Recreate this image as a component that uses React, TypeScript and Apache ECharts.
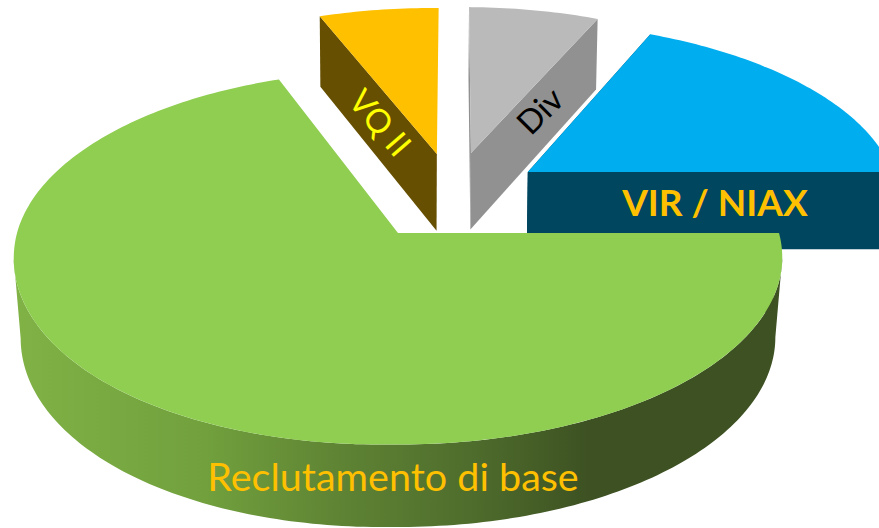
import React, { useEffect, useRef } from "react";
import * as echarts from "echarts";

const categories = ["VIR / NIAX", "Div", "VQ II", "Reclutamento di base"];
const shares = [18.2, 6.5, 6, 69.3];

// world-space explosion of each slice (radius = 1)
const explodeX = [0.356, 0.203, 0.108, 0];
const explodeY = [0.346, 0.461, 0.454, 0];

const topColors = ["#00AEEF", "#BABABA", "#FFC000", "#8FCE51"];
const sideColors = ["#00465F", "#919191", "#664F00", "#3D5122"];

const CX = 398, CY = 233, RX = 381, RY = 184, P = 0.13;
// the outer wall is only seen between the two silhouette angles
const WALL_FROM = 187.5, WALL_TO = 352.5;

const project = (X: number, Y: number, base: boolean): number[] => {
  const s = 1 / (1 + P * Y);
  let x = CX + RX * X * s;
  let y = CY - RY * Y * s;
  if (X < 0 && Y < 0) y += 8 * X * Y;
  if (base) {
    x = CX + (x - CX) * (Y > 0 ? 0.992 : 0.982);
    y += Y > 0 ? 79.5 - 6.5 * Y : 79.5 - 3 * Y;
  }
  return [x, y];
};

const greenWall = {
  type: "linear", x: 0, y: 0, x2: 1, y2: 0,
  colorStops: [
    { offset: 0, color: "#80B246" },
    { offset: 0.25, color: "#71A03D" },
    { offset: 0.42, color: "#5F8434" },
    { offset: 0.6, color: "#4E6C2C" },
    { offset: 0.75, color: "#3D5122" },
    { offset: 1, color: "#3D5122" },
  ],
};

const renderItem = (params: any, api: any) => {
  const i = params.dataIndex;
  const total = shares.reduce((a, b) => a + b, 0);
  const before = shares.slice(0, i).reduce((a, b) => a + b, 0);
  const a0 = (before / total) * 360;
  const a1 = ((before + (api.value(0) as number)) / total) * 360;
  const ex = explodeX[i], ey = explodeY[i];
  const rim = (from: number, to: number, base: boolean) => {
    const pts: number[][] = [];
    for (let a = from; a < to; a += 1) {
      const r = (a * Math.PI) / 180;
      pts.push(project(ex + Math.cos(r), ey + Math.sin(r), base));
    }
    const r = (to * Math.PI) / 180;
    pts.push(project(ex + Math.cos(r), ey + Math.sin(r), base));
    return pts;
  };
  const top = rim(a0, a1, false), bottom = rim(a0, a1, true);
  const apexTop = project(ex, ey, false), apexBase = project(ex, ey, true);
  const side = sideColors[i];
  const children: any[] = [];
  const wallA = Math.max(a0, WALL_FROM), wallB = Math.min(a1, WALL_TO);
  if (wallB > wallA) {
    children.push({
      type: "polygon",
      shape: { points: [...rim(wallA, wallB, false), ...rim(wallA, wallB, true).reverse()] },
      style: { fill: i === 3 ? greenWall : side },
    });
  }
  children.push({ type: "polygon", shape: { points: [apexTop, top[top.length - 1], bottom[bottom.length - 1], apexBase] }, style: { fill: side } });
  if (a0 < 88) {
    children.push({ type: "polygon", shape: { points: [apexTop, top[0], bottom[0], apexBase] }, style: { fill: side } });
  }
  children.push({ type: "polygon", shape: { points: [apexTop, ...top] }, style: { fill: topColors[i] } });
  return { type: "group", children };
};

const font = "Lato, Carlito, sans-serif";
const label = (text: string, x: number, y: number, size: number, color: string, rotation = 0, weight = "normal") => ({
  type: "text", x, y, rotation, z: 100, silent: true,
  style: { text, fontFamily: font, fontSize: size, fontWeight: weight, fill: color, textAlign: "center", textVerticalAlign: "middle" },
});

export default function App() {
  const ref = useRef<HTMLDivElement>(null);
  useEffect(() => {
    const chart = echarts.init(ref.current!, undefined, { renderer: "svg" });
    chart.setOption({
      animation: false,
      backgroundColor: "#FFFFFF",
      series: [{
        type: "custom",
        coordinateSystem: "none",
        silent: true,
        clip: false,
        data: shares.map((v, i) => ({ name: categories[i], value: [v] })),
        renderItem,
      }],
      graphic: [
        label(categories[0], 715, 201, 37, "#FFC000", 0, "bold"),
        label(categories[1], 539, 110, 33, "#000000", Math.PI / 4),
        label(categories[2], 381, 122, 33, "#FFFF00", -0.86),
        label(categories[3], 393, 475, 39.5, "#FFC000"),
      ],
    });
    return () => chart.dispose();
  }, []);
  return <div ref={ref} style={{ position: "absolute", left: 0, top: 0, width: 879, height: 528, overflow: "hidden" }} />;
}
